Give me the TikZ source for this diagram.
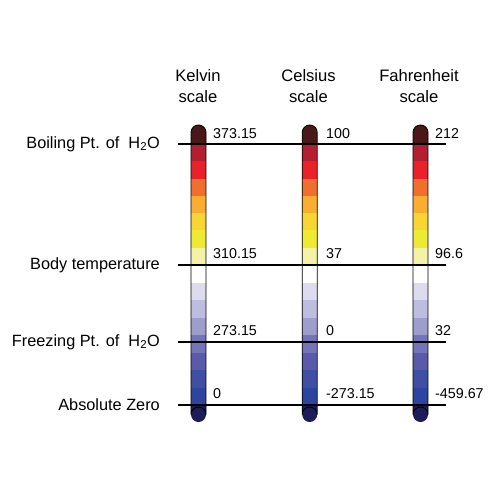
\documentclass[tikz,border=0pt]{standalone}
\usepackage{fontspec}
\setmainfont{Liberation Sans}
\begin{document}
\begin{tikzpicture}[x=1pt,y=-1pt,
  lbl/.style={font=\fontsize{16.3}{18}\selectfont, anchor=east, inner sep=0pt},
  hdr/.style={font=\fontsize{16.6}{21}\selectfont, align=center, inner sep=0pt},
  num/.style={font=\fontsize{14.3}{16}\selectfont, anchor=south west, inner sep=0pt},
  hline/.style={line width=1.5pt, black},
  tubeline/.style={line width=0.9pt, black}]
\useasboundingbox (0,0) rectangle (500,500);
\definecolor{capT}{HTML}{4A1818}
\definecolor{t1}{HTML}{B41F2F}
\definecolor{t2}{HTML}{E8212A}
\definecolor{t3}{HTML}{F06F2F}
\definecolor{t4}{HTML}{F9AE33}
\definecolor{t5}{HTML}{F7D633}
\definecolor{t6}{HTML}{EEEA34}
\definecolor{t7}{HTML}{F4F2A6}
\definecolor{b1}{HTML}{DCDCEE}
\definecolor{b2}{HTML}{BDBDE0}
\definecolor{b3}{HTML}{9E9ECC}
\definecolor{b4}{HTML}{7474B8}
\definecolor{b5}{HTML}{5A5AAA}
\definecolor{b6}{HTML}{3F4FA3}
\definecolor{b7}{HTML}{2E45A0}
\definecolor{capB}{HTML}{1C1C58}

\foreach \cx in {198.5,309.7,420.5}{
  % top cap
  \fill[capT] (\cx-7.5,144) -- (\cx-7.5,132.5) arc[start angle=180,end angle=360,radius=7.5] -- (\cx+7.5,144) -- cycle;
  \foreach \c [count=\i from 0] in {t1,t2,t3,t4,t5,t6,t7}{
    \fill[\c] (\cx-7.5,{144+\i*17.286}) rectangle (\cx+7.5,{144+(\i+1)*17.286});
  }
  \fill[white] (\cx-7.5,265) rectangle (\cx+7.5,283);
  \foreach \c [count=\i from 0] in {b1,b2,b3,b4,b5,b6,b7}{
    \fill[\c] (\cx-7.5,{283+\i*17.43}) rectangle (\cx+7.5,{283+(\i+1)*17.43});
  }
  % bottom cap
  \fill[capB] (\cx-7.5,405) -- (\cx-7.5,414.5) arc[start angle=180,end angle=0,radius=7.5] -- (\cx+7.5,405) -- cycle;
  % outline
  \draw[tubeline] (\cx-7.5,132.5) arc[start angle=180,end angle=360,radius=7.5] -- (\cx+7.5,414.5) arc[start angle=0,end angle=-180,radius=7.5] -- cycle;
}

% headers
\node[hdr] (hK) at (198,86) {Kelvin\\scale};
\node[hdr] (hC) at (308.5,86) {Celsius\\scale};
\node[hdr] (hF) at (419,86) {Fahrenheit\\scale};

% horizontal lines
\coordinate (bL) at (178,144); \coordinate (bR) at (446,144);
\coordinate (tL) at (178,265); \coordinate (tR) at (446,265);
\coordinate (fL) at (178,342); \coordinate (fR) at (446,342);
\coordinate (aL) at (178,405); \coordinate (aR) at (446,405);
\draw[hline] (bL) -- (bR);
\draw[hline] (tL) -- (tR);
\draw[hline] (fL) -- (fR);
\draw[hline] (aL) -- (aR);

% left labels
\node[lbl] (lb) at (160,144) {Boiling Pt. of\ \ H\textsubscript{2}O};
\node[lbl] (lt) at (160,265) {Body temperature};
\node[lbl] (lf) at (160,342) {Freezing Pt. of\ \ H\textsubscript{2}O};
\node[lbl] (la) at (160,405) {Absolute Zero};

% values
\node[num] (k1) at (213,138.5) {373.15};
\node[num] (k2) at (213,258.5) {310.15};
\node[num] (k3) at (213,335.5) {273.15};
\node[num] (k4) at (213,398.5) {0};
\node[num] (c1) at (326,138.5) {100};
\node[num] (c2) at (326,258.5) {37};
\node[num] (c3) at (326,335.5) {0};
\node[num] (c4) at (326,398.5) {-273.15};
\node[num] (f1) at (435,138.5) {212};
\node[num] (f2) at (435,258.5) {96.6};
\node[num] (f3) at (435,335.5) {32};
\node[num] (f4) at (435,398.5) {-459.67};
\end{tikzpicture}
\end{document}
